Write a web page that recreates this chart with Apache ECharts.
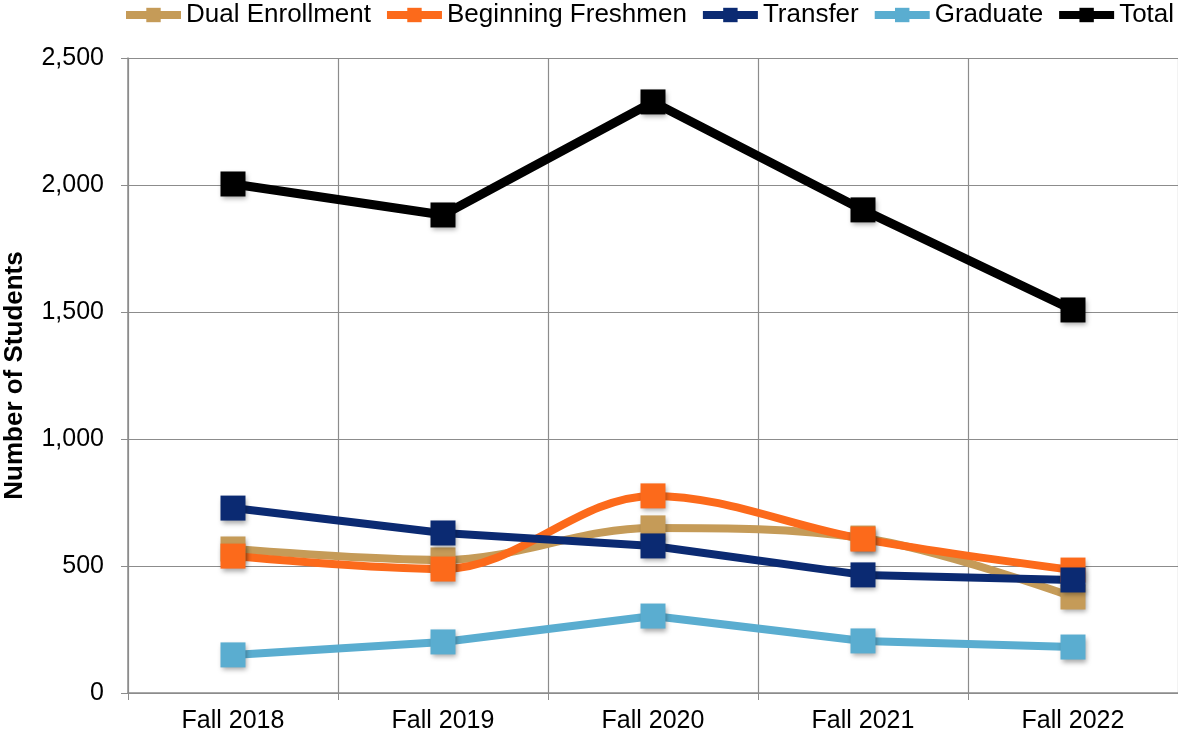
<!DOCTYPE html>
<html>
<head>
<meta charset="utf-8">
<script src="https://cdn.jsdelivr.net/npm/echarts@6/dist/echarts.min.js"></script>
<style>
  html, body { margin: 0; padding: 0; background: #fff; }
  #chart { width: 1178px; height: 740px; }
</style>
</head>
<body>
<div id="chart"></div>
<script>
// data
var terms = ['Fall 2018', 'Fall 2019', 'Fall 2020', 'Fall 2021', 'Fall 2022'];
var dualEnrollment = [567, 524, 650, 610, 378];
var beginningFreshmen = [539, 488, 776, 606, 484];
var transfer = [728, 630, 579, 465, 445];
var graduate = [150, 201, 303, 205, 181];
var total = [2004, 1882, 2327, 1902, 1508];

var font = '"Liberation Sans", Arial, sans-serif';
var gridColor = '#8c8c8c';

function mkSeries(name, data, color, smooth, width) {
    return {
        name: name,
        type: 'line',
        data: data,
        smooth: smooth ? 0.35 : false,
        symbol: 'rect',
        symbolSize: 25,
        lineStyle: { color: color, width: width },
        itemStyle: {
            color: color,
            shadowBlur: 5,
            shadowOffsetX: 1,
            shadowOffsetY: 3,
            shadowColor: 'rgba(0,0,0,0.35)'
        },
        emphasis: { disabled: true }
    };
}

var chart = echarts.init(document.getElementById('chart'), null, { renderer: 'canvas' });
chart.setOption({
    animation: false,
    backgroundColor: '#fff',
    legend: {
        top: 2,
        left: 122,
        width: 1056,
        padding: 0,
        itemWidth: 55,
        itemHeight: 18,
        itemGap: 12,
        lineStyle: { width: 8 },
        itemStyle: { shadowBlur: 0, shadowOffsetX: 0, shadowOffsetY: 0 },
        textStyle: { fontFamily: font, fontSize: 26, color: '#000' },
        data: ['Dual Enrollment', 'Beginning Freshmen', 'Transfer', 'Graduate', 'Total']
    },
    grid: { left: 128, right: 0, top: 58, bottom: 47, outerBoundsMode: 'none' },
    xAxis: {
        type: 'category',
        data: terms,
        boundaryGap: true,
        axisLine: { lineStyle: { color: gridColor, width: 1.5 } },
        axisTick: { show: true, length: 7, lineStyle: { color: gridColor } },
        axisLabel: { fontFamily: font, fontSize: 25, color: '#000', margin: 16 },
        splitLine: { show: true, interval: 0, lineStyle: { color: gridColor, width: 1.2 } }
    },
    yAxis: {
        type: 'value',
        min: 0,
        max: 2500,
        interval: 500,
        name: 'Number of Students',
        nameLocation: 'middle',
        nameGap: 100,
        nameTextStyle: { fontFamily: font, fontSize: 26, fontWeight: 'bold', color: '#000' },
        axisLine: { show: true, lineStyle: { color: gridColor, width: 1.5 } },
        axisTick: { show: true, length: 7, lineStyle: { color: gridColor } },
        axisLabel: {
            fontFamily: font, fontSize: 25, color: '#000', margin: 24,
            formatter: function (v) { return v.toLocaleString('en-US'); }
        },
        splitLine: { show: true, lineStyle: { color: gridColor, width: 1.2 } }
    },
    series: [
        mkSeries('Dual Enrollment', dualEnrollment, '#C59B58', true, 8),
        mkSeries('Beginning Freshmen', beginningFreshmen, '#FC6A1B', true, 8),
        mkSeries('Transfer', transfer, '#0B2A72', false, 8),
        mkSeries('Graduate', graduate, '#5AADD0', false, 8),
        mkSeries('Total', total, '#000000', false, 9)
    ]
});
window.addEventListener('resize', function () { chart.resize(); });
</script>
</body>
</html>
